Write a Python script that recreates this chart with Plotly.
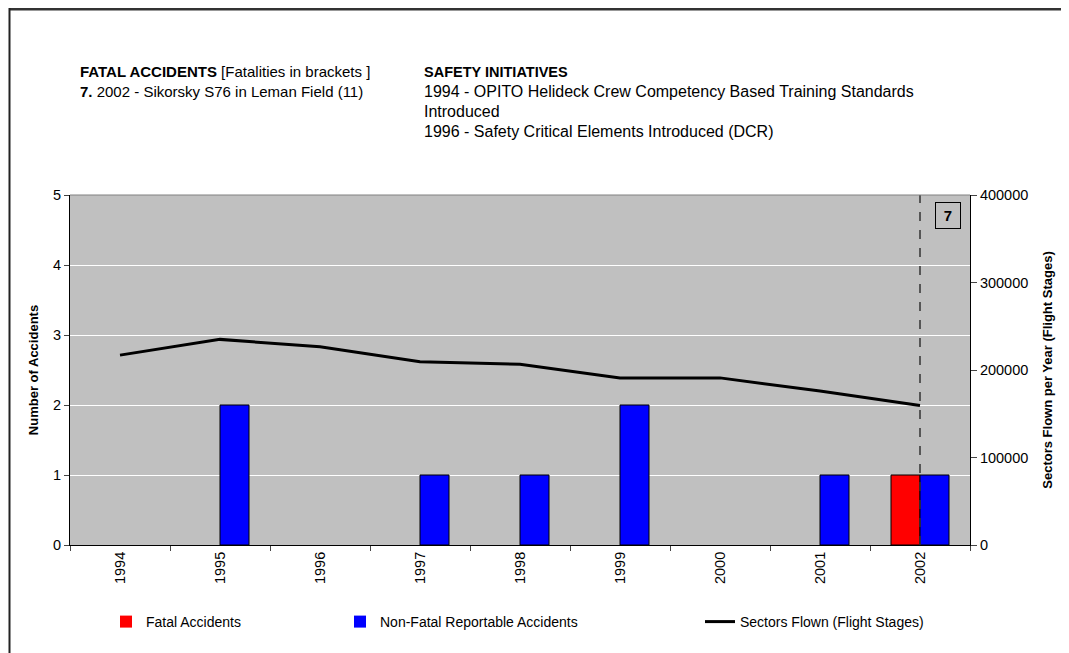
import plotly.graph_objects as go

years = ["1994", "1995", "1996", "1997", "1998", "1999", "2000", "2001", "2002"]
fatal = [0, 0, 0, 0, 0, 0, 0, 0, 1]
nonfatal = [0, 2, 0, 1, 1, 2, 0, 1, 1]
sectors = [217000, 235000, 226500, 209500, 206500, 191000, 191000, 176000, 159500]

fatal_lines = ["<b>FATAL ACCIDENTS</b> [Fatalities in brackets ]",
               "<b>7.</b> 2002 - Sikorsky S76 in Leman Field (11)"]
safety_lines = ["<b>SAFETY INITIATIVES</b>",
                "1994 - OPITO Helideck Crew Competency Based Training Standards",
                "Introduced",
                "1996 - Safety Critical Elements Introduced (DCR)"]

OFF = 8  # page body margin
W, H = 1069 - OFF, 653 - OFF
L, R, T, B = 70, 970, 195, 545  # screen coords of plot area

def px(x):
    return (x - L) / (R - L)

def py(y):
    return (B - y) / (B - T)

FONT = "Liberation Sans, Arial, sans-serif"

def outline(vals):
    return [1 if v else 0 for v in vals]

fig = go.Figure()
fig.add_trace(go.Bar(x=years, y=fatal, name="Fatal Accidents",
                     marker=dict(color="#FF0000", line=dict(color="black", width=outline(fatal))),
                     legend="legend"))
fig.add_trace(go.Bar(x=years, y=nonfatal, name="Non-Fatal Reportable Accidents",
                     marker=dict(color="#0000FF", line=dict(color="black", width=outline(nonfatal))),
                     legend="legend2"))
fig.add_trace(go.Scatter(x=years, y=sectors, name="Sectors Flown (Flight Stages)",
                         mode="lines", line=dict(color="black", width=3),
                         yaxis="y2", legend="legend3"))

annotations = []
for i, t in enumerate(fatal_lines):
    annotations.append(dict(text=t, x=px(78), y=py(71.5 + 20 * i), xref="paper", yref="paper",
                            xanchor="left", yanchor="middle", showarrow=False,
                            font=dict(size=15, color="black", family=FONT)))
for i, t in enumerate(safety_lines):
    annotations.append(dict(text=t, x=px(422), y=py(71.5 + 20 * i), xref="paper", yref="paper",
                            xanchor="left", yanchor="middle", showarrow=False,
                            font=dict(size=14.5 if i == 0 else 16, color="black", family=FONT)))
annotations.append(dict(text="<b>7</b>", x=px(948), y=py(215.5), xref="paper", yref="paper",
                        xanchor="center", yanchor="middle", showarrow=False,
                        bordercolor="black", borderwidth=1, borderpad=4, bgcolor="#C0C0C0",
                        width=16, font=dict(size=15, color="black", family=FONT)))

shapes = [
    dict(type="line", xref="x", yref="paper", x0=len(years) - 1, x1=len(years) - 1, y0=0, y1=1,
         line=dict(color="#333333", width=1.5, dash="dash")),
    dict(type="line", xref="paper", yref="paper", x0=px(9), x1=px(1069), y0=py(9), y1=py(9),
         line=dict(color="#333333", width=3)),
    dict(type="line", xref="paper", yref="paper", x0=px(9.5), x1=px(9.5), y0=py(8), y1=py(653),
         line=dict(color="#222222", width=2)),
    dict(type="line", xref="paper", yref="paper", x0=0, x1=1, y0=1, y1=1,
         line=dict(color="#808080", width=1)),
]

leg_common = dict(orientation="h", xanchor="left", yanchor="middle", y=py(622),
                  bgcolor="rgba(0,0,0,0)", font=dict(size=14, color="black", family=FONT))

fig.update_layout(
    width=W, height=H,
    margin=dict(l=L - OFF, r=1069 - R, t=T - OFF, b=653 - B, autoexpand=False),
    paper_bgcolor="white", plot_bgcolor="#C0C0C0",
    font=dict(family=FONT, color="black", size=14),
    showlegend=True,
    barmode="group", bargap=0.42, bargroupgap=0,
    xaxis=dict(type="category", range=[-0.5, len(years) - 0.5], tickangle=-90, ticks="outside",
               ticklen=5, tickson="boundaries",
               showline=True, linecolor="black", linewidth=1, showgrid=False,
               tickfont=dict(size=14.5)),
    yaxis=dict(range=[0, 5], dtick=1, ticks="outside", ticklen=5, showline=True,
               linecolor="black", linewidth=1, gridcolor="white", gridwidth=1, zeroline=False,
               title=dict(text="<b>Number of Accidents</b>", font=dict(size=13), standoff=11),
               tickfont=dict(size=14.5)),
    yaxis2=dict(range=[0, 400000], dtick=100000, overlaying="y", side="right", ticks="outside",
                ticklen=6, showline=True, linecolor="black", linewidth=1, showgrid=False,
                zeroline=False, tickformat="d",
                title=dict(text="<b>Sectors Flown per Year (Flight Stages)</b>", font=dict(size=13), standoff=15),
                tickfont=dict(size=14.5)),
    legend=dict(x=px(106), **leg_common),
    legend2=dict(x=px(340), **leg_common),
    legend3=dict(x=px(700), **leg_common),
    annotations=annotations,
    shapes=shapes,
)

fig.write_html("out.html")
